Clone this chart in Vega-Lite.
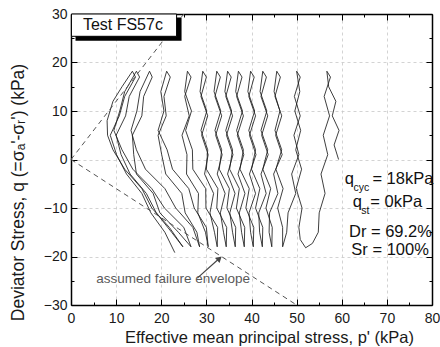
{
  "$schema": "https://vega.github.io/schema/vega-lite/v6.json",
  "width": 361,
  "height": 291,
  "padding": {"left": 71, "top": 14, "right": 8, "bottom": 42},
  "autosize": {"type": "none"},
  "background": "white",
  "config": {
    "font": "Liberation Sans",
    "view": {"stroke": null},
    "axis": {"labelFont": "Liberation Sans", "titleFont": "Liberation Sans"}
  },
  "datasets": {
    "path": [
      {"i":1,"p":59.3,"q":0},{"i":2,"p":58.3,"q":3},{"i":3,"p":59.4,"q":6},{"i":4,"p":57.9,"q":9},{"i":5,"p":58.7,"q":12},{"i":6,"p":57.1,"q":15},{"i":7,"p":56.7,"q":18.2},
      {"i":8,"p":57.5,"q":17},{"i":9,"p":56.1,"q":13},{"i":10,"p":57.3,"q":9},{"i":11,"p":55.9,"q":5},{"i":12,"p":56.9,"q":1},{"i":13,"p":55.4,"q":-3},{"i":14,"p":56.3,"q":-7},{"i":15,"p":55.0,"q":-11},{"i":16,"p":54.8,"q":-15},{"i":17,"p":53.5,"q":-17.3},{"i":18,"p":52.0,"q":-18.2},
      {"i":19,"p":50.8,"q":-16.5},{"i":20,"p":50.5,"q":-14},{"i":21,"p":51.2,"q":-10},{"i":22,"p":49.9,"q":-6},{"i":23,"p":51.1,"q":-2},{"i":24,"p":49.8,"q":2},{"i":25,"p":50.9,"q":6},{"i":26,"p":49.6,"q":10},{"i":27,"p":50.7,"q":14},{"i":28,"p":50.0,"q":18.2},
      {"i":29,"p":50.8,"q":17},{"i":30,"p":49.5,"q":13},{"i":31,"p":50.8,"q":9},{"i":32,"p":49.4,"q":5},{"i":33,"p":50.5,"q":1},{"i":34,"p":48.9,"q":-3},{"i":35,"p":49.8,"q":-7},{"i":36,"p":48.1,"q":-11},{"i":37,"p":47.8,"q":-15},{"i":38,"p":46.9,"q":-18},
      {"i":39,"p":46.9,"q":-14},{"i":40,"p":45.8,"q":-10},{"i":41,"p":47.0,"q":-6},{"i":42,"p":45.4,"q":-2},{"i":43,"p":46.7,"q":2},{"i":44,"p":45.2,"q":6},{"i":45,"p":46.3,"q":10},{"i":46,"p":45.0,"q":14},{"i":47,"p":45.6,"q":18.2},
      {"i":48,"p":46.4,"q":17},{"i":49,"p":45.2,"q":13},{"i":50,"p":46.7,"q":9},{"i":51,"p":45.35,"q":5},{"i":52,"p":46.8,"q":1},{"i":53,"p":44.9,"q":-3},{"i":54,"p":45.85,"q":-7},{"i":55,"p":44.0,"q":-11},{"i":56,"p":43.9,"q":-15},{"i":57,"p":44.5,"q":-18},
      {"i":58,"p":44.6,"q":-14},{"i":59,"p":43.2,"q":-10},{"i":60,"p":44.25,"q":-6},{"i":61,"p":42.5,"q":-2},{"i":62,"p":43.6,"q":2},{"i":63,"p":42.1,"q":6},{"i":64,"p":43.4,"q":10},{"i":65,"p":41.9,"q":14},{"i":66,"p":42.5,"q":18.2},
      {"i":67,"p":43.3,"q":17},{"i":68,"p":42.1,"q":13},{"i":69,"p":43.6,"q":9},{"i":70,"p":42.25,"q":5},{"i":71,"p":43.7,"q":1},{"i":72,"p":42.1,"q":-3},{"i":73,"p":43.25,"q":-7},{"i":74,"p":41.6,"q":-11},{"i":75,"p":41.8,"q":-15},{"i":76,"p":42.4,"q":-18},
      {"i":77,"p":42.5,"q":-14},{"i":78,"p":40.9,"q":-10},{"i":79,"p":41.85,"q":-6},{"i":80,"p":40.0,"q":-2},{"i":81,"p":40.9,"q":2},{"i":82,"p":39.4,"q":6},{"i":83,"p":40.7,"q":10},{"i":84,"p":39.2,"q":14},{"i":85,"p":39.8,"q":18.2},
      {"i":86,"p":40.6,"q":17},{"i":87,"p":39.4,"q":13},{"i":88,"p":40.9,"q":9},{"i":89,"p":39.55,"q":5},{"i":90,"p":41.0,"q":1},{"i":91,"p":39.55,"q":-3},{"i":92,"p":40.9,"q":-7},{"i":93,"p":39.45,"q":-11},{"i":94,"p":39.8,"q":-15},{"i":95,"p":40.4,"q":-18},
      {"i":96,"p":40.5,"q":-14},{"i":97,"p":38.75,"q":-10},{"i":98,"p":39.5,"q":-6},{"i":99,"p":37.45,"q":-2},{"i":100,"p":38.2,"q":2},{"i":101,"p":36.7,"q":6},{"i":102,"p":38.0,"q":10},{"i":103,"p":36.5,"q":14},{"i":104,"p":37.1,"q":18.2},
      {"i":105,"p":37.9,"q":17},{"i":106,"p":36.7,"q":13},{"i":107,"p":38.2,"q":9},{"i":108,"p":36.85,"q":5},{"i":109,"p":38.3,"q":1},{"i":110,"p":37.0,"q":-3},{"i":111,"p":38.55,"q":-7},{"i":112,"p":37.3,"q":-11},{"i":113,"p":37.8,"q":-15},{"i":114,"p":38.4,"q":-18},
      {"i":115,"p":38.5,"q":-14},{"i":116,"p":36.65,"q":-10},{"i":117,"p":37.3,"q":-6},{"i":118,"p":35.15,"q":-2},{"i":119,"p":35.8,"q":2},{"i":120,"p":34.3,"q":6},{"i":121,"p":35.6,"q":10},{"i":122,"p":34.1,"q":14},{"i":123,"p":34.7,"q":18.2},
      {"i":124,"p":35.5,"q":17},{"i":125,"p":34.3,"q":13},{"i":126,"p":35.8,"q":9},{"i":127,"p":34.45,"q":5},{"i":128,"p":35.9,"q":1},{"i":129,"p":34.7,"q":-3},{"i":130,"p":36.35,"q":-7},{"i":131,"p":35.2,"q":-11},{"i":132,"p":35.8,"q":-15},{"i":133,"p":36.4,"q":-18},
      {"i":134,"p":36.5,"q":-14},{"i":135,"p":34.55,"q":-10},{"i":136,"p":35.1,"q":-6},{"i":137,"p":32.85,"q":-2},{"i":138,"p":33.4,"q":2},{"i":139,"p":31.9,"q":6},{"i":140,"p":33.2,"q":10},{"i":141,"p":31.7,"q":14},{"i":142,"p":32.3,"q":18.2},
      {"i":143,"p":33.1,"q":17},{"i":144,"p":31.9,"q":13},{"i":145,"p":33.4,"q":9},{"i":146,"p":32.05,"q":5},{"i":147,"p":33.5,"q":1},{"i":148,"p":32.4,"q":-3},{"i":149,"p":34.15,"q":-7},{"i":150,"p":33.1,"q":-11},{"i":151,"p":33.8,"q":-15},{"i":152,"p":34.4,"q":-18},
      {"i":153,"p":34.5,"q":-14},{"i":154,"p":32.3,"q":-10},{"i":155,"p":32.55,"q":-6},{"i":156,"p":30.0,"q":-2},{"i":157,"p":30.3,"q":2},{"i":158,"p":28.8,"q":6},{"i":159,"p":30.1,"q":10},{"i":160,"p":28.6,"q":14},{"i":161,"p":29.2,"q":18.2},
      {"i":162,"p":30.0,"q":17},{"i":163,"p":28.8,"q":13},{"i":164,"p":30.3,"q":9},{"i":165,"p":28.95,"q":5},{"i":166,"p":30.4,"q":1},{"i":167,"p":29.6,"q":-3},{"i":168,"p":31.6,"q":-7},{"i":169,"p":30.8,"q":-11},{"i":170,"p":31.8,"q":-15},{"i":171,"p":32.4,"q":-18},
      {"i":172,"p":32.5,"q":-14},{"i":173,"p":29.9,"q":-10},{"i":174,"p":29.85,"q":-6},{"i":175,"p":27.0,"q":-2},{"i":176,"p":26.9,"q":2},{"i":177,"p":25.4,"q":6},{"i":178,"p":26.7,"q":10},{"i":179,"p":25.2,"q":14},{"i":180,"p":25.8,"q":18.2},
      {"i":181,"p":26.6,"q":17},{"i":182,"p":25.2,"q":13},{"i":183,"p":26.2,"q":9},{"i":184,"p":24.6,"q":5},{"i":185,"p":25.7,"q":1},{"i":186,"p":25.6,"q":-3},{"i":187,"p":28.25,"q":-7},{"i":188,"p":28.1,"q":-11},{"i":189,"p":29.8,"q":-15},{"i":190,"p":30.4,"q":-18},
      {"i":191,"p":30.0,"q":-14},{"i":192,"p":27.3,"q":-10},{"i":193,"p":26.1,"q":-6},{"i":194,"p":22.5,"q":-2},{"i":195,"p":21.3,"q":2},{"i":196,"p":19.3,"q":6},{"i":197,"p":20.6,"q":10},{"i":198,"p":19.9,"q":14},{"i":199,"p":21.2,"q":18.2},
      {"i":200,"p":22.0,"q":17},{"i":201,"p":20.6,"q":13},{"i":202,"p":21.1,"q":9},{"i":203,"p":19.3,"q":5},{"i":204,"p":20.1,"q":1},{"i":205,"p":21.0,"q":-3},{"i":206,"p":24.55,"q":-7},{"i":207,"p":25.3,"q":-11},{"i":208,"p":27.9,"q":-15},{"i":209,"p":28.5,"q":-18},
      {"i":210,"p":27.0,"q":-14},{"i":211,"p":23.2,"q":-10},{"i":212,"p":20.8,"q":-6},{"i":213,"p":16.5,"q":-2},{"i":214,"p":14.5,"q":2},{"i":215,"p":13.3,"q":6},{"i":216,"p":14.6,"q":10},{"i":217,"p":15.3,"q":14},{"i":218,"p":17.4,"q":18.2},
      {"i":219,"p":18.0,"q":17},{"i":220,"p":16.1,"q":13},{"i":221,"p":15.7,"q":9},{"i":222,"p":13.6,"q":5},{"i":223,"p":13.9,"q":1},{"i":224,"p":14.5,"q":-3},{"i":225,"p":18.2,"q":-7},{"i":226,"p":19.7,"q":-11},{"i":227,"p":23.8,"q":-15},{"i":228,"p":26.6,"q":-18},
      {"i":229,"p":25.0,"q":-14},{"i":230,"p":20.7,"q":-10},{"i":231,"p":17.9,"q":-6},{"i":232,"p":13.7,"q":-2},{"i":233,"p":11.3,"q":2},{"i":234,"p":9.5,"q":6},{"i":235,"p":10.8,"q":10},{"i":236,"p":11.9,"q":14},{"i":237,"p":14.5,"q":18.2},
      {"i":238,"p":15.2,"q":17},{"i":239,"p":12.9,"q":13},{"i":240,"p":12.1,"q":9},{"i":241,"p":10.0,"q":5},{"i":242,"p":11.1,"q":1},{"i":243,"p":13.1,"q":-3},{"i":244,"p":16.7,"q":-7},{"i":245,"p":18.9,"q":-11},{"i":246,"p":22.3,"q":-15},{"i":247,"p":24.8,"q":-18},
      {"i":248,"p":21.8,"q":-14},{"i":249,"p":17.9,"q":-10},{"i":250,"p":15.7,"q":-6},{"i":251,"p":11.9,"q":-2},{"i":252,"p":9.3,"q":2},{"i":253,"p":8.1,"q":5},{"i":254,"p":8.0,"q":8},{"i":255,"p":9.3,"q":12},{"i":256,"p":11.3,"q":15},{"i":257,"p":13.6,"q":18.2},
      {"i":258,"p":14.3,"q":17},{"i":259,"p":11.9,"q":13},{"i":260,"p":10.7,"q":9},{"i":261,"p":8.7,"q":5},{"i":262,"p":10.1,"q":1},{"i":263,"p":12.3,"q":-3},{"i":264,"p":15.7,"q":-7},{"i":265,"p":17.7,"q":-11},{"i":266,"p":20.8,"q":-15},{"i":267,"p":23.0,"q":-19.2}
    ],
    "env": [
      {"line":"compression","p":0,"q":0},{"line":"compression","p":25,"q":30},
      {"line":"extension","p":0,"q":0},{"line":"extension","p":50,"q":-30}
    ],
    "boxes": [
      {"part":"shadow","x1":1.0,"x2":24.5,"y1":24.5,"y2":29.3},
      {"part":"box","x1":0.1,"x2":23.4,"y1":25.4,"y2":30}
    ],
    "main": [
      {"t":"q","x":60.64,"y":-4.95},
      {"t":"= 18kPa","x":66.79,"y":-4.95},
      {"t":"q","x":62.42,"y":-9.86},
      {"t":"= 0kPa","x":66.34,"y":-9.86},
      {"t":"Dr = 69.2%","x":61.6,"y":-15.9},
      {"t":"Sr = 100%","x":62.13,"y":-19.7}
    ],
    "subs": [
      {"t":"cyc","x":62.6,"y":-6.43},
      {"t":"st","x":64.3,"y":-11.2}
    ]
  },
  "layer": [
    {
      "data": {"name": "path"},
      "mark": {"type": "line", "color": "#1c1c1c", "strokeWidth": 0.85},
      "encoding": {
        "x": {"field": "p", "type": "quantitative", "scale": {"domain": [0, 80], "nice": false},
          "axis": {"orient": "bottom", "values": [0,5,10,15,20,25,30,35,40,45,50,55,60,65,70,75,80],
            "labelExpr": "datum.value % 10 === 0 ? datum.label : ''",
            "labelFontSize": 14, "labelColor": "#1a1a1a", "labelPadding": 12, "labelFlush": false, "labelOverlap": false,
            "domainColor": "black", "domainWidth": 1.5, "tickColor": "black", "tickWidth": 1,
            "tickSize": {"condition": {"test": "datum.value % 10 === 0", "value": -6}, "value": -3},
            "grid": true, "gridColor": "#c8c8c8", "gridDash": [3, 3], "gridWidth": 0.8,
            "gridOpacity": {"condition": {"test": "datum.value % 10 === 0 && datum.value > 0 && datum.value < 80", "value": 1}, "value": 0},
            "title": "Effective mean principal stress, p' (kPa)", "titleFontSize": 16.5, "titleFontWeight": "normal", "titleColor": "#1a1a1a",
            "titleX": 198, "titleY": 37, "titleBaseline": "alphabetic", "titleAnchor": "middle"}},
        "y": {"field": "q", "type": "quantitative", "scale": {"domain": [-30, 30], "nice": false},
          "axis": {"orient": "left", "values": [-30,-25,-20,-15,-10,-5,0,5,10,15,20,25,30],
            "labelExpr": "datum.value % 10 === 0 ? datum.label : ''",
            "labelFontSize": 14, "labelColor": "#1a1a1a", "labelPadding": 10, "labelFlush": false, "labelOverlap": false,
            "domainColor": "black", "domainWidth": 1.5, "tickColor": "black", "tickWidth": 1,
            "tickSize": {"condition": {"test": "datum.value % 10 === 0", "value": -6}, "value": -3},
            "grid": true, "gridColor": "#c8c8c8", "gridDash": [3, 3], "gridWidth": 0.8,
            "gridOpacity": {"condition": {"test": "datum.value % 10 === 0 && datum.value > -30 && datum.value < 30", "value": 1}, "value": 0},
            "title": "Deviator Stress, q (=σₐ'-σᵣ') (kPa)", "titleFontSize": 17.5, "titleFontWeight": "normal", "titleColor": "#1a1a1a",
            "titleX": -53, "titleY": 178, "titleAngle": -90, "titleAlign": "center", "titleBaseline": "middle"}},
        "order": {"field": "i", "type": "quantitative"}
      }
    },
    {
      "data": {"name": "env"},
      "mark": {"type": "line", "color": "#555555", "strokeWidth": 1, "strokeDash": [5, 4]},
      "encoding": {
        "x": {"field": "p", "type": "quantitative", "scale": {"domain": [0, 80], "nice": false},
          "axis": {"orient": "top", "values": [0,5,10,15,20,25,30,35,40,45,50,55,60,65,70,75,80], "labels": false, "title": null, "grid": false,
            "domainColor": "black", "domainWidth": 1.5, "tickColor": "black", "tickWidth": 1,
            "tickSize": {"condition": {"test": "datum.value % 10 === 0", "value": -6}, "value": -3}}},
        "y": {"field": "q", "type": "quantitative", "scale": {"domain": [-30, 30], "nice": false},
          "axis": {"orient": "right", "values": [-30,-25,-20,-15,-10,-5,0,5,10,15,20,25,30], "labels": false, "title": null, "grid": false,
            "domainColor": "black", "domainWidth": 1.5, "tickColor": "black", "tickWidth": 1,
            "tickSize": {"condition": {"test": "datum.value % 10 === 0", "value": -6}, "value": -3}}},
        "detail": {"field": "line"}
      }
    },
    {
      "data": {"name": "boxes"},
      "transform": [{"filter": "datum.part === 'shadow'"}],
      "mark": {"type": "rect", "color": "black"},
      "encoding": {
        "x": {"field": "x1", "type": "quantitative", "axis": null},
        "x2": {"field": "x2"},
        "y": {"field": "y1", "type": "quantitative", "axis": null},
        "y2": {"field": "y2"}
      }
    },
    {
      "data": {"name": "boxes"},
      "transform": [{"filter": "datum.part === 'box'"}],
      "mark": {"type": "rect", "fill": "white", "stroke": "black", "strokeWidth": 1},
      "encoding": {
        "x": {"field": "x1", "type": "quantitative", "axis": null},
        "x2": {"field": "x2"},
        "y": {"field": "y1", "type": "quantitative", "axis": null},
        "y2": {"field": "y2"}
      }
    },
    {
      "data": {"values": [{"t": "Test FS57c", "x": 11.5, "y": 26.7}]},
      "mark": {"type": "text", "fontSize": 16, "align": "center", "baseline": "alphabetic", "color": "#111111"},
      "encoding": {
        "x": {"field": "x", "type": "quantitative", "axis": null},
        "y": {"field": "y", "type": "quantitative", "axis": null},
        "text": {"field": "t"}
      }
    },
    {
      "data": {"name": "main"},
      "mark": {"type": "text", "fontSize": 16.5, "align": "left", "baseline": "alphabetic", "color": "#111111"},
      "encoding": {
        "x": {"field": "x", "type": "quantitative", "axis": null},
        "y": {"field": "y", "type": "quantitative", "axis": null},
        "text": {"field": "t"}
      }
    },
    {
      "data": {"name": "subs"},
      "mark": {"type": "text", "fontSize": 10.5, "align": "left", "baseline": "alphabetic", "color": "#111111"},
      "encoding": {
        "x": {"field": "x", "type": "quantitative", "axis": null},
        "y": {"field": "y", "type": "quantitative", "axis": null},
        "text": {"field": "t"}
      }
    },
    {
      "data": {"values": [{"t": "assumed failure envelope", "x": 5.59, "y": -25.5}]},
      "mark": {"type": "text", "fontSize": 13.5, "align": "left", "baseline": "alphabetic", "color": "#5a5a5a"},
      "encoding": {
        "x": {"field": "x", "type": "quantitative", "axis": null},
        "y": {"field": "y", "type": "quantitative", "axis": null},
        "text": {"field": "t"}
      }
    },
    {
      "data": {"values": [{"x": 28.05, "y": -24.4, "x2": 33.1, "y2": -20.2}]},
      "mark": {"type": "rule", "color": "#444444", "strokeWidth": 1.2},
      "encoding": {
        "x": {"field": "x", "type": "quantitative", "axis": null},
        "y": {"field": "y", "type": "quantitative", "axis": null},
        "x2": {"field": "x2"},
        "y2": {"field": "y2"}
      }
    },
    {
      "data": {"values": [{"x": 32.9, "y": -20.4}]},
      "mark": {"type": "point", "shape": "triangle-up", "angle": 48, "size": 45, "filled": true, "color": "#444444", "opacity": 1},
      "encoding": {
        "x": {"field": "x", "type": "quantitative", "axis": null},
        "y": {"field": "y", "type": "quantitative", "axis": null}
      }
    }
  ],
  "resolve": {"axis": {"x": "independent", "y": "independent"}}
}
